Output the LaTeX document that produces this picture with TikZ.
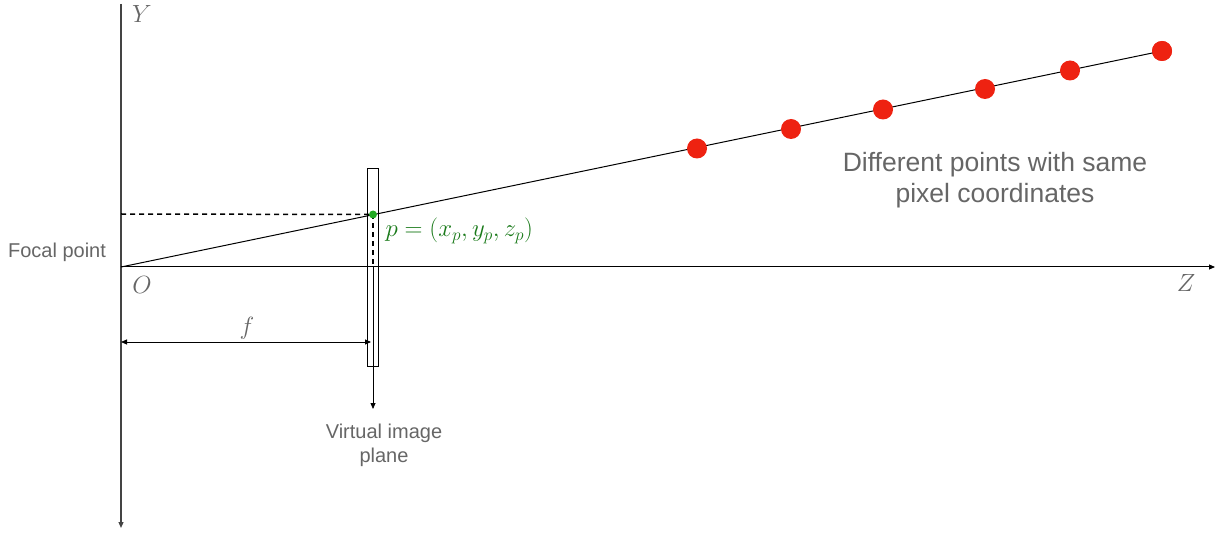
\documentclass[tikz,border=0pt]{standalone}
\usepackage{fontspec}
\setsansfont{Liberation Sans}
\usetikzlibrary{arrows.meta}
\definecolor{axisgray}{HTML}{444444}
\definecolor{txtgray}{HTML}{666666}
\definecolor{dotred}{HTML}{EE2211}
\definecolor{dotgreen}{HTML}{22AA22}
\definecolor{txtgreen}{HTML}{1A7A1A}
\tikzset{
  tip/.style={-{Triangle[length=6pt,width=5pt]}},
  reddot/.style={circle,fill=dotred,inner sep=0pt,minimum size=20pt},
  greendot/.style={circle,fill=dotgreen,inner sep=0pt,minimum size=8pt},
  sanslabel/.style={text=txtgray,font=\sffamily\fontsize{20}{24}\selectfont,align=center},
  mathlabel/.style={text=txtgray,font=\fontsize{25}{30}\selectfont},
}
\begin{document}
\begin{tikzpicture}[x=1pt,y=-1pt]
\useasboundingbox (0,0) rectangle (1217,534);
% key coordinates
\coordinate (O) at (121,267);
\coordinate (Ytop) at (121,4);
\coordinate (Ybot) at (121,528);
\coordinate (Zend) at (1215,267);
\coordinate (Pz) at (373,267);
\coordinate (Pbot) at (373,409);
\coordinate (Yp) at (121,214);
\coordinate (fL) at (121,342);
\coordinate (fR) at (371,342);
% axes
\draw[axisgray,line width=1.2pt,tip] (Ytop) -- (Ybot);
\draw[black,line width=1pt,tip] (O) -- (Zend);
% image plane
\node[draw,line width=0.8pt,minimum width=11pt,minimum height=198pt,inner sep=0pt] (plane) at (372.5,267) {};
% ray and points
\node[reddot] (r6) at (1162,51) {};
\draw[line width=1pt] (O) -- (r6.center);
\node[reddot] (r1) at (697,148.5) {};
\node[reddot] (r2) at (791,129) {};
\node[reddot] (r3) at (883,109.5) {};
\node[reddot] (r4) at (985,89) {};
\node[reddot] (r5) at (1070,70.5) {};
\node[reddot] (r6b) at (1162,51) {};
% projection point
\coordinate (pc) at (373,214.5);
\draw[line width=1.5pt,dash pattern=on 5pt off 4pt] (Yp) -- (pc);
\draw[line width=1.5pt,dash pattern=on 5pt off 4pt] (pc) -- (Pz);
\draw[line width=0.8pt,tip] (Pz) -- (Pbot);
\node[greendot] (p) at (pc) {};
% f dimension
\draw[line width=0.8pt,{Triangle[length=6pt,width=5pt]}-{Triangle[length=6pt,width=5pt]}] (fL) -- (fR);
% labels
\node[mathlabel] (flab) at (247,328) {$f$};
\node[mathlabel] (Ylab) at (142,14) {$Y$};
\node[mathlabel] (Olab) at (142,285) {$O$};
\node[mathlabel] (Zlab) at (1186,283) {$Z$};
\node[text=txtgreen,font=\fontsize{26}{30}\selectfont,anchor=west] (plab) at (382,231) {$p=(x_p,y_p,z_p)$};
\node[sanslabel] (focal) at (57,252) {Focal point};
\node[sanslabel] (vip) at (384,445) {Virtual image\\plane};
\node[sanslabel,font=\sffamily\fontsize{26.5}{31}\selectfont] (diff) at (995,180) {Different points with same\\pixel coordinates};
\end{tikzpicture}
\end{document}
